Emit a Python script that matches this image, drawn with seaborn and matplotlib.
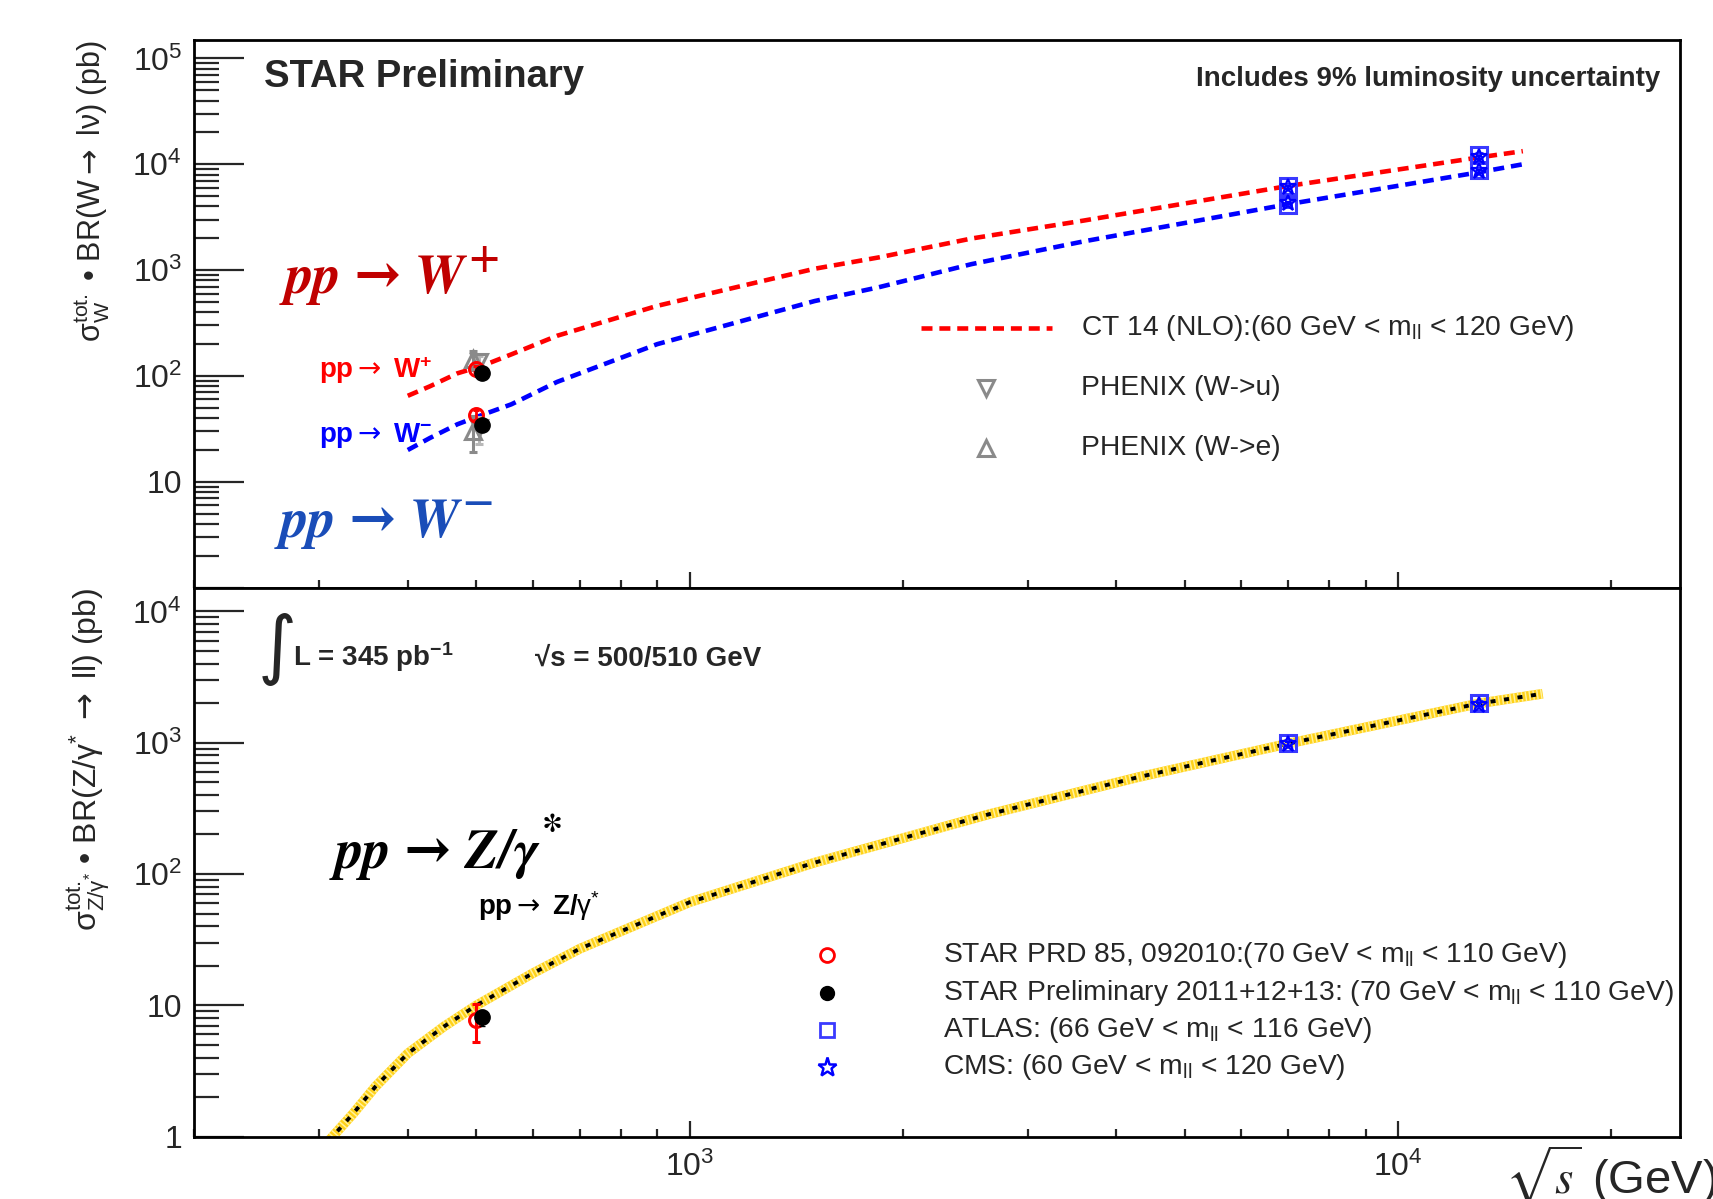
import numpy as np
import pandas as pd
import matplotlib
matplotlib.use("Agg")
import matplotlib.pyplot as plt
import matplotlib.ticker as mticker
from matplotlib.patches import Rectangle
import seaborn as sns

# ---------------- data ----------------
w_sqrts = [400, 430, 470, 510, 560, 650, 900, 1500, 1850, 2500, 3600, 7000, 13000, 15000]
wplus_ct14 = [65, 80, 106, 125, 160, 240, 460, 1030, 1320, 1990, 2940, 6240, 11600, 13300]
wminus_ct14 = [20, 26, 35, 43, 54, 88, 200, 510, 690, 1140, 1870, 4200, 8400, 10000]

z_sqrts = [300, 335, 360, 400, 450, 500, 600, 700, 1000, 1500, 2650, 4300, 7000, 13000, 16000]
z_theory = [0.77, 1.5, 2.4, 4.3, 6.9, 10.0, 17.5, 27, 61, 122, 286, 547, 985, 1990, 2360]

star_prd_sqrts = [500, 500]
star_prd_w = [117, 43]          # W+, W-
star_prd_w_err = [7, 5]
star_prd_z = [7.7]
star_prd_z_err_lo = [2.45]
star_prd_z_err_hi = [2.5]

star_pre_sqrts = [510, 510]
star_pre_w = [106, 34.5]
star_pre_w_err = [5, 3]
star_pre_z = [8.1]
star_pre_z_err = [1.1]

phenix_e_sqrts = [495, 495]
phenix_e = [144, 30.5]
phenix_e_err = [30, 11.5]
phenix_mu_sqrts = [505, 505]
phenix_mu = [136, 32]
phenix_mu_err = [20, 9]

lhc_sqrts = [7000, 13000]
atlas_wplus = [6300, 12200]
atlas_wminus = [4150, 8800]
cms_wplus = [6050, 11600]
cms_wminus = [4300, 8600]
atlas_z = [1000, 2000]
cms_z = [975, 1950]

y_tick_values_top = [1, 10, 100, 1000, 10000, 100000]
y_tick_values_bot = [1, 10, 100, 1000, 10000]
x_tick_values = [1000, 10000]

legend_top_labels = [r"CT 14 (NLO):(60 GeV < $\mathrm{m_{ll}}$ < 120 GeV)",
                     "PHENIX (W->u)", "PHENIX (W->e)"]
legend_bot_labels = [r"STAR PRD 85, 092010:(70 GeV < $\mathrm{m_{ll}}$ < 110 GeV)",
                     r"STAR Preliminary 2011+12+13: (70 GeV < $\mathrm{m_{ll}}$ < 110 GeV)",
                     r"ATLAS: (66 GeV < $\mathrm{m_{ll}}$ < 116 GeV)",
                     r"CMS: (60 GeV < $\mathrm{m_{ll}}$ < 120 GeV)"]

# ---------------- style ----------------
sns.set_style("ticks")
plt.rcParams["font.family"] = ["Liberation Sans", "DejaVu Sans"]
plt.rcParams["mathtext.fontset"] = "custom"
plt.rcParams["mathtext.rm"] = "Liberation Sans"
plt.rcParams["mathtext.it"] = "Liberation Sans:italic"
plt.rcParams["mathtext.bf"] = "Liberation Sans:bold"
plt.rcParams["mathtext.sf"] = "DejaVu Sans"
plt.rcParams["mathtext.fallback"] = "cm"
plt.rcParams["axes.linewidth"] = 2.0

RED = "#ff0000"
BLUE = "#0000ff"
SQ_BLUE = "#3a3aff"
GRAY = "#8a8a8a"
LGRAY = "#b8b8b8"
DASH = (0, (2.4, 1.5))
ARROW = r"$\mathsf{\rightarrow}$"

fig = plt.figure(figsize=(17.13, 11.99), dpi=100)
ax1 = fig.add_axes([0.11354, 0.5098, 0.8672, 0.4565], zorder=0)
ax2 = fig.add_axes([0.11354, 0.0520, 0.8672, 0.4578], zorder=1)
cover = Rectangle((0, 0), 0.11354 - 0.001, 0.5098, transform=fig.transFigure,
                  facecolor="white", edgecolor="none", zorder=0.5)
fig.patches.append(cover)


def make_fmt(skip_one=False):
    def log_fmt(v, pos):
        if v <= 0:
            return ""
        e = int(round(np.log10(v)))
        if abs(v - 10 ** e) > 1e-6 * v:
            return ""
        if e == 0:
            return "" if skip_one else "1"
        if e == 1:
            return "10"
        return r"$\mathregular{10^{%d}}$" % e
    return log_fmt


for ax, yt, skip in ((ax1, y_tick_values_top, True), (ax2, y_tick_values_bot, False)):
    ax.set_xscale("log")
    ax.set_yscale("log")
    ax.set_xlim(200, 25000)
    ax.yaxis.set_major_locator(mticker.FixedLocator(yt))
    ax.yaxis.set_minor_locator(mticker.LogLocator(base=10, subs=np.arange(2, 10), numticks=50))
    ax.yaxis.set_major_formatter(mticker.FuncFormatter(make_fmt(skip)))
    ax.yaxis.set_minor_formatter(mticker.NullFormatter())
    ax.xaxis.set_major_locator(mticker.FixedLocator(x_tick_values))
    ax.xaxis.set_minor_locator(mticker.LogLocator(base=10, subs=np.arange(2, 10), numticks=50))
    ax.xaxis.set_major_formatter(mticker.FuncFormatter(make_fmt(False)))
    ax.xaxis.set_minor_formatter(mticker.NullFormatter())
    ax.tick_params(axis="y", which="major", direction="in", length=36, width=1.6,
                   left=True, right=False, labelsize=23, pad=9)
    ax.tick_params(axis="y", which="minor", direction="in", length=18, width=1.6,
                   left=True, right=False)
    ax.tick_params(axis="x", which="major", direction="in", length=11.5, width=1.6,
                   bottom=True, top=False, labelsize=23, pad=11)
    ax.tick_params(axis="x", which="minor", direction="in", length=5.5, width=1.6,
                   bottom=True, top=False)
    for s in ax.spines.values():
        s.set_linewidth(2.0)
        s.set_color("black")
    ax.grid(False)

ax1.set_ylim(1, 10 ** 5.17)
ax2.set_ylim(1, 10 ** 4.18)
ax1.tick_params(axis="x", labelbottom=False)

# ---------------- top panel: W ----------------
sns.lineplot(x=w_sqrts, y=wplus_ct14, ax=ax1, color=RED, lw=3.3, linestyle=DASH,
             estimator=None, sort=False, zorder=3)
sns.lineplot(x=w_sqrts, y=wminus_ct14, ax=ax1, color=BLUE, lw=3.3, linestyle=DASH,
             estimator=None, sort=False, zorder=3)

ax1.errorbar(phenix_e_sqrts, phenix_e, yerr=phenix_e_err, fmt="^", ms=11, mfc="none",
             mec=GRAY, mew=2.2, ecolor=GRAY, elinewidth=2.2, capsize=3, zorder=4)
ax1.errorbar(phenix_mu_sqrts, phenix_mu, yerr=phenix_mu_err, fmt="v", ms=11, mfc="none",
             mec=GRAY, mew=2.2, ecolor=LGRAY, elinewidth=2.2, capsize=3, zorder=4)
ax1.errorbar(star_prd_sqrts, star_prd_w, yerr=star_prd_w_err, fmt="o", ms=10, mfc="none",
             mec=RED, mew=2.2, ecolor=RED, elinewidth=2, capsize=2, zorder=5)
ax1.errorbar(star_pre_sqrts, star_pre_w, yerr=star_pre_w_err, fmt="o", ms=11, mfc="black",
             mec="black", ecolor="black", elinewidth=2, capsize=2, zorder=6)
for vals in (atlas_wplus, atlas_wminus):
    ax1.errorbar(lhc_sqrts, vals, yerr=[0.04 * v for v in vals], fmt="s", ms=11, mfc="none",
                 mec=SQ_BLUE, mew=2.2, ecolor=SQ_BLUE, elinewidth=2, capsize=3, zorder=5)
for vals in (cms_wplus, cms_wminus):
    ax1.errorbar(lhc_sqrts, vals, yerr=[0.03 * v for v in vals], fmt="*", ms=12, mfc="none",
                 mec=BLUE, mew=1.6, ecolor=BLUE, elinewidth=1.5, capsize=2, zorder=5)

# ---------------- bottom panel: Z ----------------
sns.lineplot(x=z_sqrts, y=z_theory, ax=ax2, color="#ffd21a", lw=7.0,
             estimator=None, sort=False, zorder=2, solid_capstyle="butt")
sns.lineplot(x=z_sqrts, y=z_theory, ax=ax2, color="#fff2a0", lw=7.0, linestyle=(0, (0.15, 0.25)),
             estimator=None, sort=False, zorder=2.1)
sns.lineplot(x=z_sqrts, y=z_theory, ax=ax2, color="black", lw=2.8, linestyle=(0, (1.3, 2.2)),
             estimator=None, sort=False, zorder=2.2)

ax2.errorbar([500], star_prd_z, yerr=[star_prd_z_err_lo, star_prd_z_err_hi], fmt="o", ms=10,
             mfc="none", mec=RED, mew=2.2, ecolor=RED, elinewidth=2.2, capsize=3, zorder=5)
ax2.errorbar([510], star_pre_z, yerr=star_pre_z_err, fmt="o", ms=11, mfc="black", mec="black",
             ecolor="black", elinewidth=2, capsize=2, zorder=6)
ax2.errorbar(lhc_sqrts, atlas_z, yerr=[0.04 * v for v in atlas_z], fmt="s", ms=11, mfc="none",
             mec=SQ_BLUE, mew=2.2, ecolor=SQ_BLUE, elinewidth=2, capsize=3, zorder=5)
ax2.errorbar(lhc_sqrts, cms_z, yerr=[0.03 * v for v in cms_z], fmt="*", ms=12, mfc="none",
             mec=BLUE, mew=1.6, ecolor=BLUE, elinewidth=1.5, capsize=2, zorder=5)

# ---------------- axis labels ----------------
ax1.set_ylabel(r"$\mathrm{\sigma_{W}^{tot.}}$ • BR(W" + ARROW + r" l$\mathrm{\nu}$) (pb)",
               fontsize=22, loc="top")
ax1.yaxis.set_label_coords(-0.0690, 1.0)
ax1.yaxis.label.set_va("center")
ax2.set_ylabel(r"$\mathrm{\sigma_{Z/\gamma^{*}}^{tot.}}$ • BR(Z/$\mathrm{\gamma^{*}}$ " + ARROW + " ll) (pb)",
               fontsize=23, loc="top")
ax2.yaxis.set_label_coords(-0.0712, 1.0)
ax2.yaxis.label.set_va("center")
fig.text(0.8786, 0.004, r"$\sqrt{s}$ (GeV)", fontsize=34, ha="left", va="baseline",
         math_fontfamily="stix")

# ---------------- annotations ----------------
SERIF = ["STIXGeneral", "DejaVu Serif"]


def big_label(ax, x, y, base, sup, color, size=40, sup_size=30, sup_xy=(1.0, 0.88)):
    t = ax.text(x, y, base, transform=ax.transAxes, fontsize=size, color=color,
                family=SERIF, weight="bold", style="italic", ha="left", va="baseline")
    ax.annotate(sup, xy=sup_xy, xycoords=t, xytext=(2, 0), textcoords="offset points",
                fontsize=sup_size, color=color, family=SERIF, weight="bold",
                ha="left", va="center")
    return t


big_label(ax1, 0.0617, 0.539, "pp → W", "+", "#c00000")
big_label(ax1, 0.058, 0.092, "pp → W", "−", "#1a4db8")
big_label(ax2, 0.0948, 0.4886, "pp → Z/γ", "*", "black", sup_xy=(1.0, 0.92))

ax1.text(0.0838, 0.383, "pp" + ARROW + r" W$^{\mathbf{+}}$", transform=ax1.transAxes,
         fontsize=20, weight="bold", color=RED, ha="left", va="baseline")
ax1.text(0.0838, 0.2655, "pp" + ARROW + r" W$^{\mathbf{-}}$", transform=ax1.transAxes,
         fontsize=20, weight="bold", color=BLUE, ha="left", va="baseline")
ax2.text(0.191, 0.403, "pp" + ARROW + r" Z/$\mathrm{\gamma}^{*}$", transform=ax2.transAxes,
         fontsize=20, weight="bold", color="black", ha="left", va="baseline")

ax1.text(0.0471, 0.934, "STAR Preliminary", transform=ax1.transAxes, fontsize=27.5,
         weight="bold", ha="left", va="center")
ax1.text(0.9869, 0.930, "Includes 9% luminosity uncertainty", transform=ax1.transAxes,
         fontsize=20, weight="bold", ha="right", va="center")

ax2.text(0.0555, 0.8867, "∫", transform=ax2.transAxes, fontsize=54, family="DejaVu Sans",
         ha="center", va="center")
ax2.text(0.066, 0.857, r"L = 345 pb$^{\mathbf{-1}}$", transform=ax2.transAxes, fontsize=20,
         weight="bold", ha="left", va="baseline")
ax2.text(0.2294, 0.857, "√s = 500/510 GeV", transform=ax2.transAxes,
         fontsize=20, weight="bold", ha="left", va="baseline")

# ---------------- legends (drawn by hand in axes coordinates) ----------------
ax1.plot([0.489, 0.577], [0.475, 0.475], transform=ax1.transAxes, color=RED, lw=3.3,
         linestyle=DASH, clip_on=False)
ax1.plot([0.533], [0.365], transform=ax1.transAxes, marker="v", ms=11, mfc="none",
         mec=GRAY, mew=2.2, clip_on=False)
ax1.plot([0.533], [0.2556], transform=ax1.transAxes, marker="^", ms=11, mfc="none",
         mec=GRAY, mew=2.2, clip_on=False)
for yy, lab in zip([0.475, 0.365, 0.2556], legend_top_labels):
    ax1.text(0.597, yy, lab, transform=ax1.transAxes, fontsize=20.3, ha="left", va="center")

bot_rows = [0.3314, 0.2618, 0.1940, 0.1262]
ax2.plot([0.4258], [bot_rows[0]], transform=ax2.transAxes, marker="o", ms=10, mfc="none",
         mec=RED, mew=2.0, clip_on=False)
ax2.plot([0.4258], [bot_rows[1]], transform=ax2.transAxes, marker="o", ms=10, mfc="black",
         mec="black", clip_on=False)
ax2.plot([0.4258], [bot_rows[2]], transform=ax2.transAxes, marker="s", ms=10, mfc="none",
         mec=SQ_BLUE, mew=2.0, clip_on=False)
ax2.plot([0.4258], [bot_rows[3]], transform=ax2.transAxes, marker="*", ms=14, mfc="none",
         mec=BLUE, mew=1.8, clip_on=False)
for yy, lab in zip(bot_rows, legend_bot_labels):
    ax2.text(0.5037, yy, lab, transform=ax2.transAxes, fontsize=20.3, ha="left", va="center")

fig.savefig("out.png", dpi=100, facecolor="white")
